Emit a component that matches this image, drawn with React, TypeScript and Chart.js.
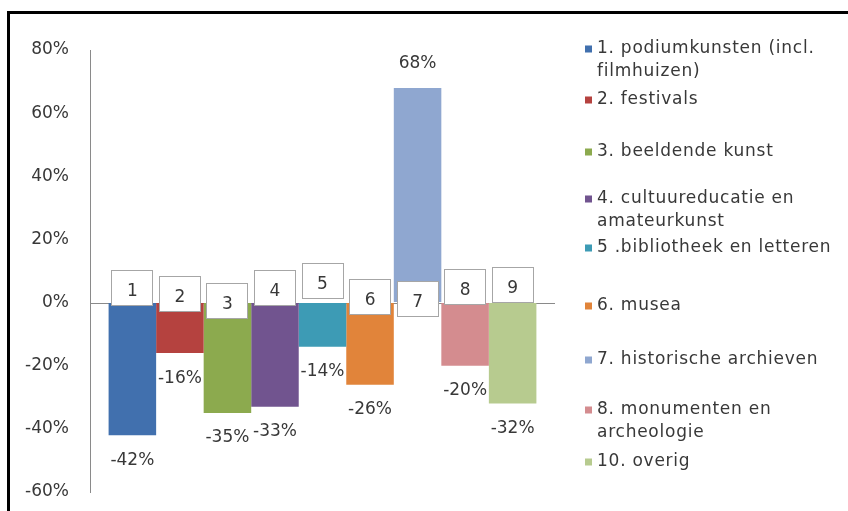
import React, { useEffect, useRef } from "react";
import { Chart, registerables } from "chart.js";

Chart.register(...registerables);

// ---- data ----
const categories = [
  "1. podiumkunsten (incl. filmhuizen)",
  "2. festivals",
  "3. beeldende kunst",
  "4. cultuureducatie en amateurkunst",
  "5 .bibliotheek en letteren",
  "6. musea",
  "7. historische archieven",
  "8. monumenten en archeologie",
  "10. overig",
];
const barNumbers = ["1", "2", "3", "4", "5", "6", "7", "8", "9"];
const values = [-42, -16, -35, -33, -14, -26, 68, -20, -32];
const yTickValues = [-60, -40, -20, 0, 20, 40, 60, 80];

// ---- styles / layout ----
const colors = [
  "#4170AE",
  "#B5423F",
  "#8CAA4E",
  "#71548F",
  "#3D9BB5",
  "#E1843A",
  "#8FA7D0",
  "#D48C8F",
  "#B7CB8F",
];
const FONT = '"DejaVu Sans", sans-serif';
const TEXT = "#383838";
const AXIS = "#8a8a8a";
const W = 848;
const H = 511;
const PLOT_TOP = 50;
const PLOT_BOTTOM = 492;
const boxTopOffsets = [-33, -27, -20, -33, -40, -24, -22, -34, -36];
const legendLineY = [49, 100, 152, 199, 248, 306, 360, 410, 462];
const legendLineH = 23;

function wrapText(ctx: CanvasRenderingContext2D, text: string, maxW: number) {
  const words = text.split(" ");
  const lines: string[] = [];
  let cur = "";
  for (const w of words) {
    const test = cur ? cur + " " + w : w;
    if (cur && ctx.measureText(test).width > maxW) {
      lines.push(cur);
      cur = w;
    } else cur = test;
  }
  if (cur) lines.push(cur);
  return lines;
}

const overlay = {
  id: "overlay",
  beforeDraw(chart: any) {
    const ctx = chart.ctx;
    ctx.save();
    ctx.fillStyle = "#ffffff";
    ctx.fillRect(0, 0, chart.width, chart.height);
    ctx.fillStyle = "#000000";
    ctx.fillRect(7, 11, chart.width - 7, 3);
    ctx.fillRect(7, 11, 3, chart.height - 11);
    ctx.restore();
  },
  beforeDatasetsDraw(chart: any) {
    const ctx = chart.ctx;
    const y0 = Math.round(chart.scales.y.getPixelForValue(0)) + 0.5;
    ctx.save();
    ctx.strokeStyle = AXIS;
    ctx.lineWidth = 1;
    ctx.beginPath();
    ctx.moveTo(chart.chartArea.left, y0);
    ctx.lineTo(chart.chartArea.right, y0);
    ctx.stroke();
    ctx.restore();
  },
  afterDatasetsDraw(chart: any) {
    const ctx = chart.ctx;
    const zero = chart.scales.y.getPixelForValue(0);
    ctx.save();
    ctx.font = `17px ${FONT}`;
    ctx.textAlign = "center";
    ctx.textBaseline = "middle";
    chart.data.datasets.forEach((ds: any, i: number) => {
      const el = chart.getDatasetMeta(i).data[0];
      if (!el) return;
      const x = el.x;
      const v = ds.data[0];
      // number box
      const bw = 42;
      const bh = 36;
      const top = Math.round(zero + boxTopOffsets[i]);
      const left = Math.round(x - bw / 2);
      ctx.fillStyle = "#ffffff";
      ctx.fillRect(left, top, bw, bh);
      ctx.strokeStyle = "#a6a6a6";
      ctx.lineWidth = 1;
      ctx.strokeRect(left + 0.5, top + 0.5, bw - 1, bh - 1);
      ctx.fillStyle = TEXT;
      ctx.fillText(barNumbers[i], x, top + 22);
      // value label
      const ly = v < 0 ? el.y + 25 : el.y - 24;
      ctx.fillText(`${v}%`, x, ly);
    });
    ctx.restore();

    // legend
    ctx.save();
    ctx.font = `17px ${FONT}`;
    (ctx as any).letterSpacing = "0.75px";
    ctx.textAlign = "left";
    ctx.textBaseline = "middle";
    chart.data.datasets.forEach((ds: any, i: number) => {
      const lines = wrapText(ctx, ds.label, 248);
      const y = legendLineY[i];
      ctx.fillStyle = ds.backgroundColor;
      ctx.fillRect(585, y - 3.5, 7, 7);
      ctx.fillStyle = TEXT;
      lines.forEach((ln, k) => ctx.fillText(ln, 597, y + k * legendLineH));
    });
    ctx.restore();
  },
};

export default function App() {
  const ref = useRef<HTMLCanvasElement | null>(null);
  useEffect(() => {
    document.body.style.margin = "0";
    const canvas = ref.current;
    if (!canvas) return;
    Chart.defaults.font.family = FONT;
    const chart = new Chart(canvas, {
      type: "bar",
      data: {
        labels: [""],
        datasets: categories.map((c, i) => ({
          label: c,
          data: [values[i]],
          backgroundColor: colors[i],
          borderWidth: 0,
          categoryPercentage: 0.92,
          barPercentage: 1,
        })),
      },
      options: {
        animation: false,
        responsive: false,
        events: [],
        layout: { padding: { left: 0, right: W - 555, top: PLOT_TOP, bottom: H - PLOT_BOTTOM } },
        plugins: {
          legend: { display: false },
          tooltip: { enabled: false },
          title: { display: false },
        },
        scales: {
          x: {
            display: false,
            ticks: { display: false },
            grid: { display: false, drawTicks: false },
            border: { display: false },
          },
          y: {
            min: -60,
            max: 80,
            afterBuildTicks: (scale: any) => {
              scale.ticks = yTickValues.map((v) => ({ value: v }));
            },
            afterFit: (scale: any) => {
              scale.width = 90;
            },
            grid: {
              display: true,
              color: "rgba(0,0,0,0)",
              drawTicks: true,
              tickLength: 13,
              tickColor: "rgba(0,0,0,0)",
            },
            border: { display: true, color: AXIS, width: 1 },
            ticks: {
              padding: 8,
              color: TEXT,
              font: { size: 17, family: FONT },
              callback: (v: any) => `${v}%`,
            },
          },
        },
      },
      plugins: [overlay],
    });
    return () => chart.destroy();
  }, []);
  return (
    <div style={{ position: "absolute", left: 0, top: 0, width: W, height: H }}>
      <canvas ref={ref} width={W} height={H} style={{ width: W, height: H, display: "block" }} />
    </div>
  );
}
